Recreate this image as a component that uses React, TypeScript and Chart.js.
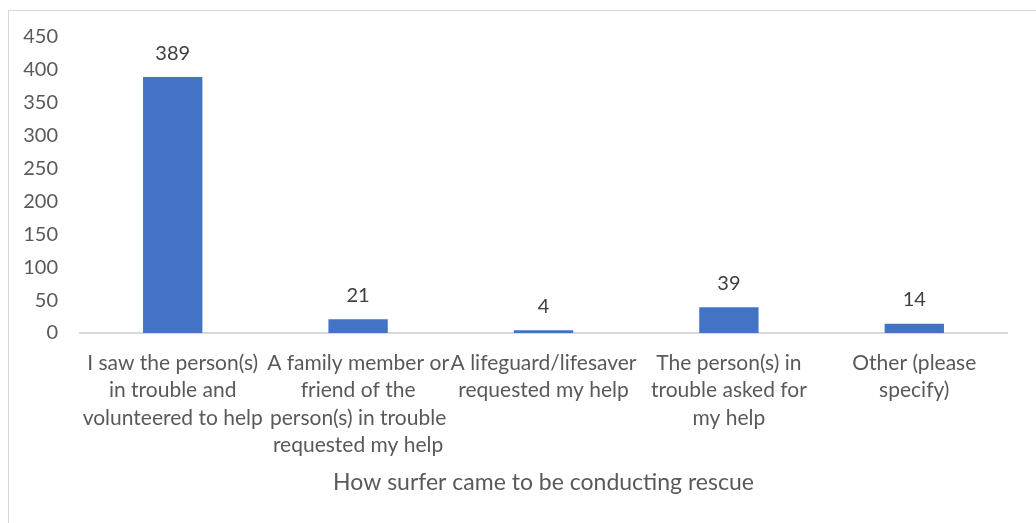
import React, { useEffect, useRef } from "react";
import { Chart, registerables } from "chart.js";

Chart.register(...registerables);

const categories: string[][] = [
  ["I saw the person(s)", "in trouble and", "volunteered to help"],
  ["A family member or", "friend of the", "person(s) in trouble", "requested my help"],
  ["A lifeguard/lifesaver", "requested my help"],
  ["The person(s) in", "trouble asked for", "my help"],
  ["Other (please", "specify)"],
];
const values: number[] = [389, 21, 4, 39, 14];
const axisTitle = "How surfer came to be conducting rescue";
const yMin = 0;
const yMax = 450;
const yStep = 50;

const FONT = "Lato, 'Open Sans', sans-serif";

const dataLabelPlugin = {
  id: "dataLabels",
  afterDatasetsDraw(chart: any) {
    const ctx = chart.ctx;
    const meta = chart.getDatasetMeta(0);
    ctx.save();
    ctx.font = `20px ${FONT}`;
    ctx.fillStyle = "#404040";
    ctx.textAlign = "center";
    ctx.textBaseline = "middle";
    meta.data.forEach((bar: any, i: number) => {
      ctx.fillText(String(values[i]), bar.x, bar.y - 24);
    });
    ctx.restore();
  },
};

export default function App() {
  const ref = useRef<HTMLCanvasElement | null>(null);
  useEffect(() => {
    if (!ref.current) return;
    const chart = new Chart(ref.current, {
      type: "bar",
      data: {
        labels: categories,
        datasets: [
          {
            data: values,
            backgroundColor: "#4472C4",
            barPercentage: 0.32,
            categoryPercentage: 1,
          },
        ],
      },
      options: {
        animation: false,
        responsive: false,
        maintainAspectRatio: false,
        layout: { padding: { top: 26, right: 29, left: 0, bottom: 0 } },
        plugins: {
          legend: { display: false },
          tooltip: { enabled: false },
          title: { display: false },
        },
        scales: {
          x: {
            grid: { display: false, drawTicks: false },
            border: { display: true, color: "#d9d9d9", width: 2 },
            ticks: {
              color: "#595959",
              font: { family: FONT, size: 21, lineHeight: 1.31 },
              padding: 16,
              maxRotation: 0,
              minRotation: 0,
              autoSkip: false,
            },
            title: {
              display: true,
              text: axisTitle,
              color: "#595959",
              font: { family: FONT, size: 23 },
              padding: { top: 0, bottom: 27 },
            },
            afterFit(scale: any) {
              scale.height = 190;
              scale.paddingLeft = 0;
              scale.paddingRight = 0;
            },
          },
          y: {
            min: yMin,
            max: yMax,
            grid: { display: false, drawTicks: false },
            border: { display: false },
            ticks: {
              stepSize: yStep,
              color: "#595959",
              font: { family: FONT, size: 20 },
              padding: 22,
            },
            afterFit(scale: any) {
              scale.width = 71;
              scale.paddingTop = 0;
              scale.paddingBottom = 0;
            },
          },
        },
      },
      plugins: [dataLabelPlugin],
    });
    return () => chart.destroy();
  }, []);

  return (
    <div
      style={{
        position: "fixed",
        left: 0,
        top: 0,
        width: "100vw",
        height: "100vh",
        overflow: "hidden",
        background: "#fff",
      }}
    >
      <div
        style={{
          position: "absolute",
          left: 8,
          top: 10,
          width: 1060,
          height: 560,
          border: "1px solid #d9d9d9",
          boxSizing: "border-box",
        }}
      />
      <canvas
        ref={ref}
        width={1027}
        height={512}
        style={{ position: "absolute", left: 9, top: 11, width: 1027, height: 512 }}
      />
    </div>
  );
}
